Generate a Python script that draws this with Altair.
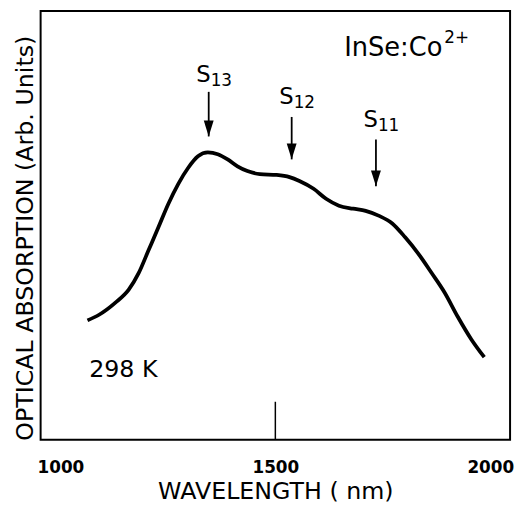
import altair as alt
import pandas as pd

FONT = "DejaVu Sans"

# Absorption curve (arb. units, 0-100 box scale)
wavelength = [1063, 1090, 1128, 1159, 1182, 1205, 1228, 1251, 1274, 1297, 1320,
              1343, 1366, 1389, 1412, 1435, 1464, 1503, 1533, 1556, 1589, 1618,
              1648, 1681, 1710, 1740, 1772, 1802, 1832, 1864, 1894, 1924, 1956, 1986]
absorption = [27.6, 28.9, 31.7, 34.7, 38.5, 43.8, 49.1, 54.5, 59.1, 62.8, 65.5,
              66.4, 66.0, 64.8, 63.2, 62.1, 61.4, 61.2, 60.7, 59.8, 58.0, 55.7,
              54.1, 53.4, 52.9, 51.8, 50.0, 46.8, 43.1, 38.5, 34.0, 28.5, 23.2, 19.1]

# Arrows marking the S levels
arrow_wavelength = [1345, 1538, 1734]
arrow_top = [80.4, 74.6, 69.4]
arrow_tip = [70.1, 64.8, 58.6]
arrow_main = ["S", "S", "S"]
arrow_sub = ["13", "12", "11"]
arrow_label_y = [84.2, 79.1, 73.9]

# Axis ticks and inner tick mark
x_ticks = [1000, 1500, 2000]
inner_tick_x = [1500]
inner_tick_y0 = [0]
inner_tick_y1 = [8.8]

# Annotations
note_text = ["298 K", "InSe:Co"]
note_x = [1067, 1660]
note_y = [14.5, 88.7]
note_size = [24, 26]
sup_text = ["2+"]
sup_x = [1893]
sup_y = [91.6]

xs = alt.Scale(domain=[954, 2046], nice=False, zero=False)
ys = alt.Scale(domain=[0, 99.1], nice=False, zero=False)

xaxis = alt.Axis(values=x_ticks, format="d", ticks=False, tickSize=0, domain=False,
                 grid=False, labelFont=FONT, labelFontSize=17, labelFontWeight="bold",
                 labelColor="black", labelPadding=33, labelBaseline="alphabetic",
                 labelFlush=False, title="WAVELENGTH ( nm)", titleFont=FONT,
                 titleFontSize=24, titleFontWeight="normal", titleColor="black",
                 titleBaseline="alphabetic", titleY=59)
yaxis = alt.Axis(labels=False, ticks=False, tickSize=0, domain=False, grid=False,
                 title="OPTICAL  ABSORPTION (Arb. Units)", titleFont=FONT,
                 titleFontSize=24, titleFontWeight="normal", titleColor="black",
                 titleAngle=270, titleBaseline="alphabetic", titleAlign="center",
                 titleX=-8, titleY=229.5)


def X(field):
    return alt.X(field, type="quantitative", scale=xs, axis=xaxis)


def Y(field):
    return alt.Y(field, type="quantitative", scale=ys, axis=yaxis)


curve_df = pd.DataFrame({"wavelength": wavelength, "absorption": absorption})
arrow_df = pd.DataFrame({"wavelength": arrow_wavelength, "top": arrow_top,
                         "tip": arrow_tip, "main": arrow_main, "sub": arrow_sub,
                         "ly": arrow_label_y})
tick_df = pd.DataFrame({"wavelength": inner_tick_x, "y0": inner_tick_y0, "y1": inner_tick_y1})
note_df = pd.DataFrame({"wavelength": note_x, "y": note_y, "t": note_text, "s": note_size})
sup_df = pd.DataFrame({"wavelength": sup_x, "y": sup_y, "t": sup_text})

curve = alt.Chart(curve_df).mark_line(color="black", strokeWidth=3.8,
                                      interpolate="monotone").encode(
    x=X("wavelength"), y=Y("absorption"))

inner_tick = alt.Chart(tick_df).mark_rule(color="black", strokeWidth=1.5).encode(
    x=X("wavelength"), y=Y("y0"), y2="y1")

shafts = alt.Chart(arrow_df).mark_rule(color="black", strokeWidth=1.8).encode(
    x=X("wavelength"), y=Y("top"), y2="tip")

heads = alt.Chart(arrow_df).mark_point(
    shape="M -0.3125 -1 L 0.3125 -1 L 0 0 Z", size=1024, filled=True,
    color="black", opacity=1, strokeWidth=0).encode(x=X("wavelength"), y=Y("tip"))

s_main = alt.Chart(arrow_df).mark_text(font=FONT, fontSize=23, color="black",
                                       align="right", baseline="middle", dx=2).encode(
    x=X("wavelength"), y=Y("ly"), text="main:N")

s_sub = alt.Chart(arrow_df).mark_text(font=FONT, fontSize=17, color="black",
                                      align="left", baseline="middle", dx=2, dy=6).encode(
    x=X("wavelength"), y=Y("ly"), text="sub:N")

notes = alt.Chart(note_df).mark_text(font=FONT, color="black",
                                     align="left", baseline="alphabetic").encode(
    x=X("wavelength"), y=Y("y"), text="t:N",
    size=alt.Size("s:Q", scale=None, legend=None))

sup = alt.Chart(sup_df).mark_text(font=FONT, fontSize=17, color="black",
                                  align="left", baseline="alphabetic").encode(
    x=X("wavelength"), y=Y("y"), text="t:N")

chart = alt.layer(curve, inner_tick, shafts, heads, s_main, s_sub, notes, sup).properties(
    width=475, height=434,
    autosize=alt.AutoSizeParams(type="none"),
    padding={"left": 33, "top": 0, "right": 6, "bottom": 65},
    background="white",
).configure_view(stroke="black", strokeWidth=2)

chart.save("out.html", embed_options={"renderer": "svg", "actions": False})
